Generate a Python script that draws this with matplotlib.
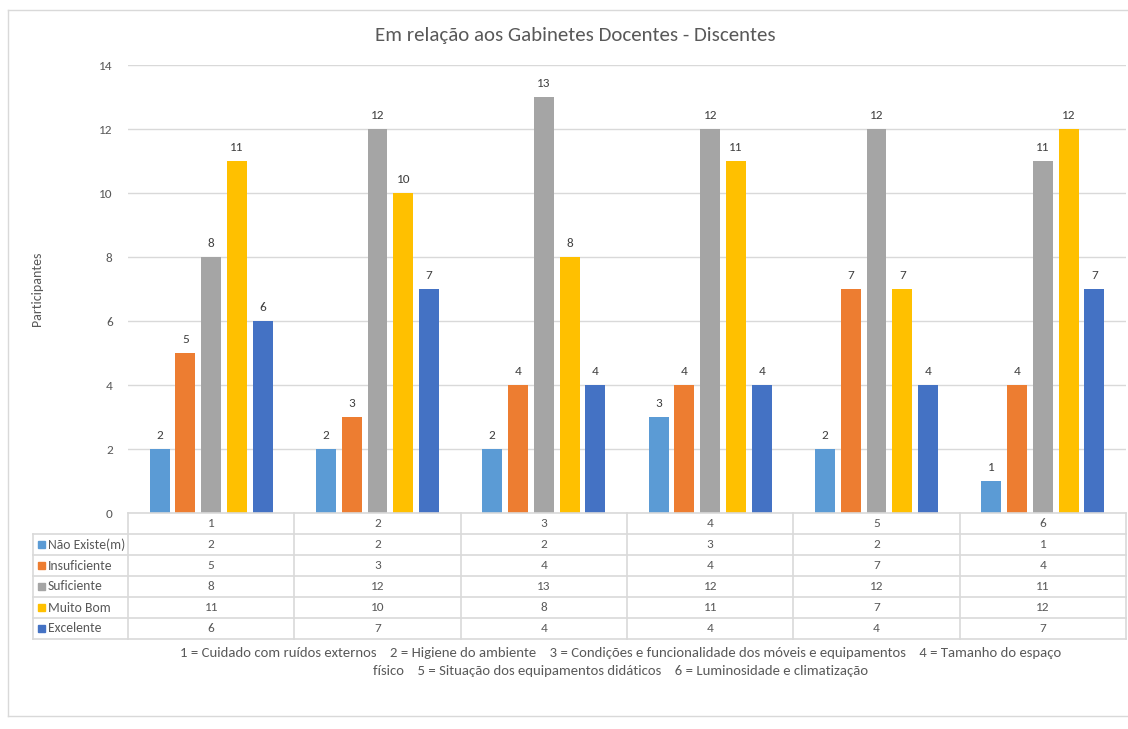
import numpy as np
import matplotlib.pyplot as plt
import matplotlib.transforms as mtransforms
from matplotlib.patches import Rectangle
from matplotlib.lines import Line2D

plt.rcParams['font.family'] = ['Carlito', 'Liberation Sans Narrow', 'Liberation Sans', 'DejaVu Sans']

categories = ["1", "2", "3", "4", "5", "6"]
series_names = ["Não Existe(m)", "Insuficiente", "Suficiente", "Muito Bom", "Excelente"]
nao_existe = [2, 2, 2, 3, 2, 1]
insuficiente = [5, 3, 4, 4, 7, 4]
suficiente = [8, 12, 13, 12, 12, 11]
muito_bom = [11, 10, 8, 11, 7, 12]
excelente = [6, 7, 4, 4, 4, 7]
series_values = [nao_existe, insuficiente, suficiente, muito_bom, excelente]
colors = ["#5B9BD5", "#ED7D31", "#A5A5A5", "#FFC000", "#4472C4"]
caption = ("1 = Cuidado com ruídos externos    2 = Higiene do ambiente    "
           "3 = Condições e funcionalidade dos móveis e equipamentos    4 = Tamanho do espaço\n"
           "físico    5 = Situação dos equipamentos didáticos    6 = Luminosidade e climatização")

W, H = 1128, 729
txt = "#595959"
grid_c = "#D9D9D9"

fig = plt.figure(figsize=(W / 100, H / 100), dpi=100)


def fx(x):
    return x / W


def fy(y):
    return 1 - y / H


# outer frame
fig.add_artist(Line2D([fx(8), fx(8)], [fy(10), fy(716)], color=grid_c, lw=1))
fig.add_artist(Line2D([fx(8), 1], [fy(10), fy(10)], color=grid_c, lw=1))
fig.add_artist(Line2D([fx(8), 1], [fy(716), fy(716)], color=grid_c, lw=1))

left, right, top, bottom = 128, 1126, 65, 513
ax = fig.add_axes([fx(left), fy(bottom), fx(right - left), (bottom - top) / H])

x = np.arange(1, len(categories) + 1)
step, width = 0.155, 0.12
for i, (vals, c) in enumerate(zip(series_values, colors)):
    pos = x + (i - 2) * step
    bars = ax.bar(pos, vals, width=width, color=c, zorder=3)
    for b, v in zip(bars, vals):
        ax.text(b.get_x() + b.get_width() / 2, v + 0.25, str(v), ha="center",
                va="bottom", fontsize=9.5, color="#404040")

ax.set_xlim(0.5, 6.5)
ax.set_ylim(0, 14)
ax.set_yticks(range(0, 15, 2))
ax.tick_params(axis="y", length=0, labelsize=9.5, labelcolor=txt, pad=11)
ax.set_xticks([])
ax.grid(axis="y", color=grid_c, lw=1, zorder=0)
for s in ax.spines.values():
    s.set_visible(False)

fig.text(fx(37), fy(289), "Participantes", rotation=90, ha="center", va="center",
         fontsize=10, color=txt)
fig.text(fx(575), fy(35), "Em relação aos Gabinetes Docentes - Discentes", ha="center",
         va="center", fontsize=15, color=txt)

# data table
trans = mtransforms.blended_transform_factory(ax.transData, fig.transFigure)
row_h = 21
rows_y = [bottom + k * row_h for k in range(7)]
lc = "#D9D9D9"
fig.add_artist(Line2D([fx(left), fx(right)], [fy(rows_y[0])] * 2, color=lc, lw=1.2))
for yy in rows_y[1:]:
    fig.add_artist(Line2D([fx(33), fx(right)], [fy(yy)] * 2, color=lc, lw=1.2))
for xb in np.arange(0.5, 7, 1.0):
    fig.add_artist(Line2D([xb, xb], [fy(rows_y[0]), fy(rows_y[-1])], color=lc, lw=1.2,
                          transform=trans))
fig.add_artist(Line2D([fx(33), fx(33)], [fy(rows_y[1]), fy(rows_y[-1])], color=lc, lw=1.2))

for j, cat in enumerate(categories):
    ax.text(x[j], fy((rows_y[0] + rows_y[1]) / 2), cat, transform=trans, ha="center",
            va="center", fontsize=9.5, color=txt)
for i, (name, vals, c) in enumerate(zip(series_names, series_values, colors)):
    yc = (rows_y[i + 1] + rows_y[i + 2]) / 2
    fig.add_artist(Rectangle((fx(38), fy(yc + 3.5)), fx(7), 7 / H, color=c,
                             transform=fig.transFigure))
    fig.text(fx(48), fy(yc), name, ha="left", va="center", fontsize=9.8, color=txt)
    for j, v in enumerate(vals):
        ax.text(x[j], fy(yc), str(v), transform=trans, ha="center", va="center",
                fontsize=9.5, color=txt)

fig.text(fx(621), fy(662), caption, ha="center", va="center", fontsize=10.6, color=txt,
         linespacing=1.65)

fig.savefig("out.png", dpi=100)
